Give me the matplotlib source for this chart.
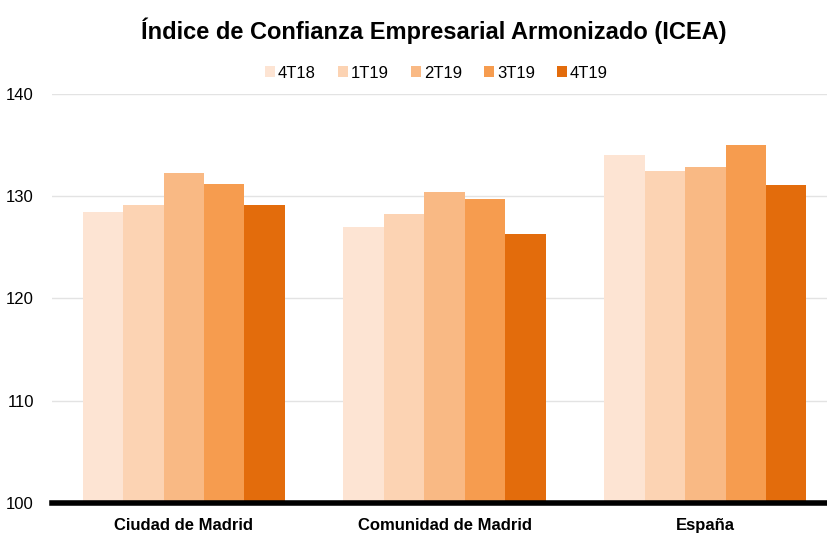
import matplotlib
matplotlib.use("Agg")
import matplotlib.pyplot as plt
import numpy as np

plt.rcParams['font.family'] = ['Liberation Sans', 'DejaVu Sans']

categories = ["Ciudad de Madrid", "Comunidad de Madrid", "España"]
series = ["4T18", "1T19", "2T19", "3T19", "4T19"]
v_4t18 = [128.5, 127.0, 134.0]
v_1t19 = [129.1, 128.3, 132.5]
v_2t19 = [132.3, 130.4, 132.9]
v_3t19 = [131.2, 129.7, 135.0]
v_4t19 = [129.1, 126.3, 131.1]
values = [v_4t18, v_1t19, v_2t19, v_3t19, v_4t19]
colors = ["#FDE4D3", "#FCD3B3", "#F9B984", "#F69C4F", "#E36C0C"]

fig = plt.figure(figsize=(8.28, 5.33), dpi=100)
ax = fig.add_axes([52/828, 1 - 503/533, 776/828, (503-94)/533])

x = np.arange(len(categories))
w = 0.155
for i, (name, vals, c) in enumerate(zip(series, values, colors)):
    ax.bar(x + (i - 2) * w, [v - 100 for v in vals], w, bottom=100, color=c,
           label=name, zorder=3)

ax.set_ylim(100, 140)
ax.set_xlim(-0.505, 2.47)
ax.set_yticks([100, 110, 120, 130, 140])
ax.yaxis.grid(True, color="#e3e3e3", linewidth=1, zorder=0)
for s in ["top", "right", "left"]:
    ax.spines[s].set_visible(False)
ax.spines["bottom"].set_linewidth(4)
ax.spines["bottom"].set_color("black")
ax.spines["bottom"].set_zorder(5)
ax.tick_params(axis="y", length=0, labelsize=12, pad=13)
ax.tick_params(axis="x", length=0, labelsize=12, pad=11)
ax.set_xticks(x)
ax.set_xticklabels(categories, fontweight="bold")

fig.text(434/828, 1 - 31/533, "Índice de Confianza Empresarial Armonizado (ICEA)",
         ha="center", va="center", fontsize=17, fontweight="bold")
fig.legend(loc="center", bbox_to_anchor=(0.527, 1 - 73/533), ncol=5, frameon=False,
           fontsize=12, handlelength=0.6, handleheight=0.6, handletextpad=0.2,
           columnspacing=1.3)

fig.savefig("out.png", dpi=100)
